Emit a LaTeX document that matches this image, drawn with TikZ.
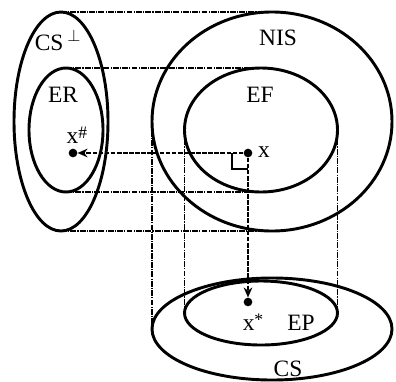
\documentclass[tikz,border=0pt]{standalone}
\usepackage{fontspec}
\setmainfont{Liberation Serif}
\usepackage{tikz}
\usetikzlibrary{arrows.meta,shapes.geometric}

\begin{document}
\begin{tikzpicture}[x=0.03cm,y=-0.03cm,
  ell/.style={draw,ellipse,line width=2.5pt,inner sep=0pt,outer sep=0pt},
  proj/.style={line width=1.3pt,dash pattern=on 5pt off 1pt on 1pt off 1pt},
  arr/.style={-{Stealth[length=3mm,width=2.6mm]},line width=2.4pt,
              dash pattern=on 4pt off 1.2pt},
  dot/.style={circle,fill,inner sep=0pt,minimum size=2.6mm},
  lbl/.style={font=\fontsize{20}{22}\selectfont,inner sep=0pt}
]
\useasboundingbox (0,0) rectangle (396,381);
% sets
\node[ell,minimum width=2.82cm,minimum height=6.57cm] (csperp) at (61,121.5) {};
\node[ell,minimum width=2.22cm,minimum height=3.72cm] (er) at (66,130) {};
\node[ell,minimum width=7.2cm,minimum height=6.57cm] (nis) at (272,121.5) {};
\node[ell,minimum width=4.59cm,minimum height=3.72cm] (ef) at (261,130) {};
\node[ell,minimum width=7.2cm,minimum height=3.06cm] (cs) at (272,329) {};
\node[ell,minimum width=4.59cm,minimum height=1.92cm] (ep) at (261,313) {};

% projection lines
\draw[proj] (csperp.north) -- (nis.north);
\draw[proj] (er.north) -- (ef.north);
\draw[proj] (er.south) -- (ef.south);
\draw[proj] (csperp.south) -- (nis.south);
\draw[proj] (nis.west) -- (cs.west);
\draw[proj] (ef.west) -- (ep.west);
\draw[proj] (ef.east) -- (ep.east);

% points
\node[dot] (px) at (248,153) {};
\node[dot] (pxh) at (73,153) {};
\node[dot] (pxs) at (248,302) {};
\draw[arr] (px) -- (pxh);
\draw[arr] (px) -- (pxs);
\draw[line width=2.4pt] ([xshift=-0.48cm]px.center) |- ([yshift=-0.48cm]px.center);

% labels
\node[lbl] (lcsperp) at (58,40) {CS\,$^{\perp}$};
\node[lbl] (ler) at (63,95) {ER};
\node[lbl] (lxh) at (77,135) {x\raisebox{0.5ex}{\fontsize{15}{16}\selectfont\#}};
\node[lbl] (lnis) at (278,38) {NIS};
\node[lbl] (lef) at (260,95) {EF};
\node[lbl,anchor=west] (lx) at (258,152) {x};
\node[lbl] (lxs) at (253,322) {x\raisebox{0.5ex}{\fontsize{15}{16}\selectfont*}};
\node[lbl] (lep) at (301,323) {EP};
\node[lbl] (lcs) at (288,369) {CS};
\end{tikzpicture}
\end{document}
